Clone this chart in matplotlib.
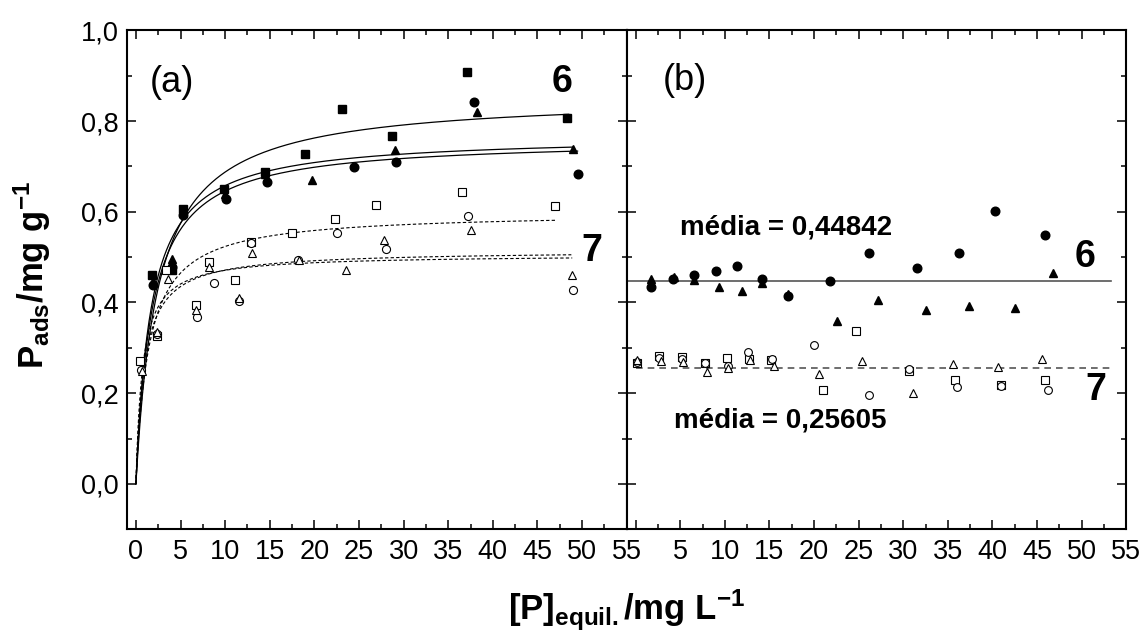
import matplotlib.pyplot as plt
import numpy as np
from matplotlib.ticker import MultipleLocator, FuncFormatter

plt.rcParams['font.family'] = ['Liberation Sans', 'DejaVu Sans']
plt.rcParams['mathtext.fontset'] = 'custom'
plt.rcParams['mathtext.rm'] = 'Liberation Sans'
plt.rcParams['mathtext.bf'] = 'Liberation Sans:bold'
plt.rcParams['mathtext.it'] = 'Liberation Sans:italic'

# --- (a) adsorption isotherms, series 6 (filled) and 7 (open) ---
a6_sq_x = [1.8, 4.0, 5.3, 9.9, 14.5, 19.0, 23.1, 28.7, 37.1, 48.3]
a6_sq_y = [0.460, 0.472, 0.605, 0.650, 0.688, 0.727, 0.826, 0.767, 0.909, 0.807]
a6_ci_x = [1.9, 4.0, 5.3, 10.1, 14.7, 24.4, 29.2, 37.9, 49.6]
a6_ci_y = [0.438, 0.478, 0.592, 0.627, 0.666, 0.699, 0.710, 0.842, 0.683]
a6_tr_x = [1.9, 4.0, 5.3, 10.0, 14.5, 19.7, 29.0, 38.2, 49.0]
a6_tr_y = [0.448, 0.495, 0.598, 0.640, 0.684, 0.669, 0.737, 0.820, 0.738]

a7_sq_x = [0.45, 2.4, 3.4, 6.7, 8.2, 11.1, 12.9, 17.45, 22.3, 26.9, 36.5, 47.0]
a7_sq_y = [0.272, 0.327, 0.471, 0.394, 0.489, 0.449, 0.533, 0.553, 0.585, 0.614, 0.644, 0.613]
a7_ci_x = [0.6, 2.4, 6.9, 8.7, 11.6, 12.9, 18.2, 22.5, 28.0, 37.25, 49.0]
a7_ci_y = [0.252, 0.330, 0.368, 0.444, 0.403, 0.530, 0.493, 0.554, 0.517, 0.591, 0.427]
a7_tr_x = [0.64, 2.4, 3.6, 6.7, 8.2, 11.6, 13.0, 18.3, 23.5, 27.8, 37.6, 48.9]
a7_tr_y = [0.250, 0.335, 0.452, 0.384, 0.478, 0.410, 0.508, 0.494, 0.471, 0.537, 0.559, 0.460]

# Langmuir fits: q = qmax*K*C/(1+K*C), drawn up to c_end
fit6_qmax = [0.856, 0.768, 0.760]
fit6_k = [0.408, 0.595, 0.564]
fit6_end = [48.5, 49.0, 49.5]
fit7_qmax = [0.599, 0.5146, 0.5056]
fit7_k = [0.693, 1.093, 1.358]
fit7_end = [47.2, 48.8, 48.9]

# --- (b) second set, scattered around the mean ---
b6_ci_x = [1.7, 4.2, 6.6, 9.0, 11.4, 14.2, 17.1, 21.75, 26.2, 31.5, 36.2, 40.3, 45.9]
b6_ci_y = [0.434, 0.452, 0.461, 0.469, 0.480, 0.452, 0.414, 0.448, 0.508, 0.477, 0.508, 0.602, 0.548]
b6_tr_x = [1.7, 4.25, 6.6, 9.3, 11.95, 14.2, 17.1, 22.6, 27.2, 32.5, 37.4, 42.5, 46.8]
b6_tr_y = [0.451, 0.457, 0.449, 0.434, 0.425, 0.444, 0.418, 0.360, 0.405, 0.383, 0.393, 0.388, 0.466]

b7_sq_x = [0.2, 2.6, 5.2, 7.8, 10.2, 12.7, 15.2, 21.0, 24.7, 30.6, 35.8, 41.0, 45.9]
b7_sq_y = [0.266, 0.281, 0.279, 0.267, 0.278, 0.276, 0.274, 0.206, 0.336, 0.250, 0.228, 0.219, 0.228]
b7_ci_x = [0.2, 2.6, 5.2, 7.8, 10.4, 12.6, 15.3, 20.0, 26.2, 30.6, 36.0, 41.0, 46.2]
b7_ci_y = [0.268, 0.278, 0.276, 0.267, 0.259, 0.290, 0.276, 0.307, 0.195, 0.253, 0.213, 0.215, 0.207]
b7_tr_x = [0.2, 2.8, 5.3, 8.0, 10.4, 12.8, 15.5, 20.6, 25.4, 31.1, 35.6, 40.6, 45.5]
b7_tr_y = [0.274, 0.272, 0.268, 0.246, 0.256, 0.274, 0.261, 0.243, 0.272, 0.201, 0.265, 0.257, 0.276]

mean6 = 0.44842
mean7 = 0.25605
mean_line_end = 53.3


def comma(v, pos=None):
    return f'{v:.1f}'.replace('.', ',')


def style_axes(ax):
    ax.set_xlim(-1, 55)
    ax.set_ylim(-0.1, 1.0)
    ax.xaxis.set_major_locator(MultipleLocator(5))
    ax.xaxis.set_minor_locator(MultipleLocator(2.5))
    ax.yaxis.set_major_locator(MultipleLocator(0.2))
    ax.yaxis.set_minor_locator(MultipleLocator(0.1))
    ax.tick_params(which='both', direction='in', top=True, right=True,
                   width=1.1, labelsize=19.5)
    ax.tick_params(which='major', length=6.5)
    ax.tick_params(which='minor', length=3.5)
    ax.tick_params(axis='x', pad=7)
    ax.tick_params(axis='y', pad=6)
    for sp in ax.spines.values():
        sp.set_linewidth(1.5)


def filled(ax, x, y, marker, ms):
    ax.plot(x, y, ls='none', marker=marker, ms=ms, color='black', zorder=3)


def hollow(ax, x, y, marker, ms):
    ax.plot(x, y, ls='none', marker=marker, ms=ms, mfc='white', mec='black',
            mew=0.8, zorder=3)


fig = plt.figure(figsize=(11.45, 6.31), dpi=100)
ax1 = fig.add_axes([0.1109, 0.1612, 0.4364, 0.7908])
ax2 = fig.add_axes([0.5473, 0.1612, 0.4364, 0.7908])
style_axes(ax1)
style_axes(ax2)

ax1.yaxis.set_major_formatter(FuncFormatter(comma))
ax2.yaxis.set_major_formatter(FuncFormatter(lambda v, p: ''))
ax2.xaxis.set_major_formatter(FuncFormatter(lambda v, p: '' if abs(v) < 1e-9 else f'{v:.0f}'))

# fitted curves
for qm, k, end in zip(fit6_qmax, fit6_k, fit6_end):
    c = np.linspace(0, end, 400)
    ax1.plot(c, qm * k * c / (1 + k * c), color='black', lw=0.9, zorder=2)
for qm, k, end in zip(fit7_qmax, fit7_k, fit7_end):
    c = np.linspace(0, end, 400)
    ax1.plot(c, qm * k * c / (1 + k * c), color='black', lw=0.8,
             dashes=(3, 2), zorder=2)

filled(ax1, a6_sq_x, a6_sq_y, 's', 5.4)
filled(ax1, a6_ci_x, a6_ci_y, 'o', 6.2)
filled(ax1, a6_tr_x, a6_tr_y, '^', 6.4)
hollow(ax1, a7_sq_x, a7_sq_y, 's', 5.4)
hollow(ax1, a7_ci_x, a7_ci_y, 'o', 5.8)
hollow(ax1, a7_tr_x, a7_tr_y, '^', 6.2)

ax1.text(1.6, 0.885, '(a)', fontsize=26, va='center')
ax1.text(47.8, 0.885, '6', fontsize=27, weight='bold', ha='center', va='center')
ax1.text(51.1, 0.513, '7', fontsize=27, weight='bold', ha='center', va='center')

# mean lines
ax2.plot([-1, mean_line_end], [mean6, mean6], color='#555555', lw=1.2, zorder=2)
ax2.plot([0, mean_line_end], [mean7, mean7], color='#555555', lw=1.2,
         dashes=(4, 3), zorder=2)

filled(ax2, b6_ci_x, b6_ci_y, 'o', 6.2)
filled(ax2, b6_tr_x, b6_tr_y, '^', 6.4)
hollow(ax2, b7_sq_x, b7_sq_y, 's', 5.2)
hollow(ax2, b7_ci_x, b7_ci_y, 'o', 5.6)
hollow(ax2, b7_tr_x, b7_tr_y, '^', 6.0)

ax2.text(3.0, 0.89, '(b)', fontsize=26, va='center')
ax2.text(5.0, 0.566, f'média = {mean6:.5f}'.replace('.', ','), fontsize=20,
         weight='bold', va='center')
ax2.text(4.3, 0.140, f'média = {mean7:.5f}'.replace('.', ','), fontsize=20,
         weight='bold', va='center')
ax2.text(50.4, 0.50, '6', fontsize=27, weight='bold', ha='center', va='center')
ax2.text(51.6, 0.206, '7', fontsize=27, weight='bold', ha='center', va='center')

fig.text(0.5476, 0.0174, r'$\mathbf{[P]_{equil.}/mg\ L^{-1}}$', fontsize=25,
         ha='center', va='baseline')
fig.text(0.028, 0.565, r'$\mathbf{P_{ads}/mg\ g^{-1}}$', fontsize=25,
         rotation=90, ha='center', va='center')

fig.savefig('out.png', dpi=100)
